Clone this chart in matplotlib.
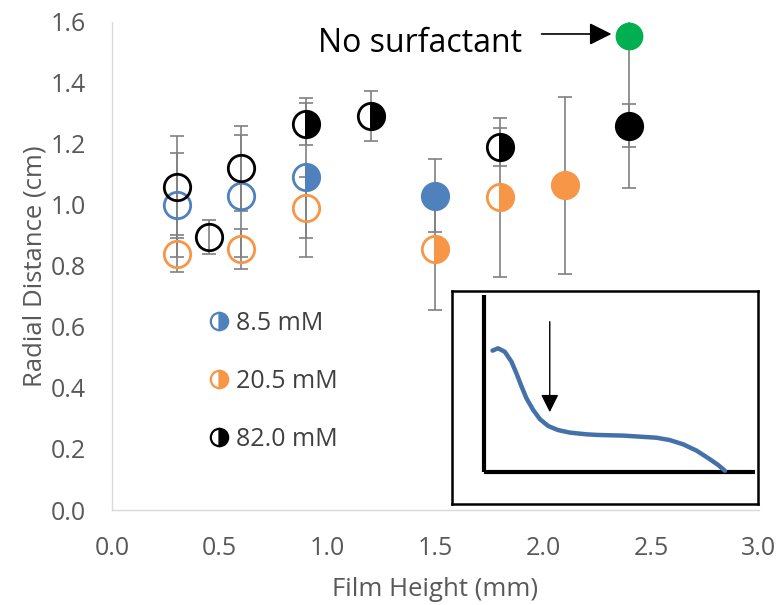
import matplotlib.pyplot as plt
import numpy as np

plt.rcParams['font.family'] = ['Open Sans', 'DejaVu Sans']

# Series: film height (mm), radial distance (cm), error (cm), marker fill
x_85 = [0.3, 0.6, 0.9, 1.5]
y_85 = [1.00, 1.03, 1.09, 1.03]
e_85 = [0.17, 0.20, 0.26, 0.12]
f_85 = ["none", "none", "right", "full"]

x_205 = [0.3, 0.6, 0.9, 1.5, 1.8, 2.1]
y_205 = [0.84, 0.855, 0.99, 0.855, 1.025, 1.065]
e_205 = [0.06, 0.065, 0.10, 0.20, 0.26, 0.29]
f_205 = ["none", "none", "none", "right", "right", "full"]

x_820 = [0.3, 0.45, 0.6, 0.9, 1.2, 1.8, 2.4]
y_820 = [1.06, 0.895, 1.12, 1.265, 1.29, 1.19, 1.26]
e_820 = [0.167, 0.055, 0.14, 0.07, 0.082, 0.062, 0.07]
f_820 = ["none", "none", "none", "right", "right", "right", "full"]

x_none = [2.4]
y_none = [1.555]
e_none = [0.5]

labels = ["8.5 mM", "20.5 mM", "82.0 mM"]
colors = ["#4F81BD", "#F79646", "#000000"]

x_ticks = [0.0, 0.5, 1.0, 1.5, 2.0, 2.5, 3.0]
y_ticks = [0.0, 0.2, 0.4, 0.6, 0.8, 1.0, 1.2, 1.4, 1.6]

# Inset schematic (film profile), in inset axes fractions
inset_x = [0.133, 0.151, 0.173, 0.195, 0.211, 0.228, 0.244, 0.266, 0.288,
           0.315, 0.347, 0.386, 0.440, 0.478, 0.560, 0.669, 0.712, 0.756,
           0.800, 0.843, 0.870, 0.892]
inset_y = [0.720, 0.731, 0.715, 0.668, 0.614, 0.551, 0.496, 0.441, 0.398,
           0.366, 0.347, 0.335, 0.327, 0.324, 0.321, 0.311, 0.300, 0.280,
           0.250, 0.210, 0.183, 0.156]

fig = plt.figure(figsize=(7.83, 6.05), dpi=100)
ax = fig.add_axes([0.143, 0.157, 0.826, 0.807])

err_color = "#808080"
series = [(x_85, y_85, e_85, f_85, colors[0]),
          (x_205, y_205, e_205, f_205, colors[1]),
          (x_820, y_820, e_820, f_820, colors[2])]

for xs, ys, es, fs, c in series:
    ax.errorbar(xs, ys, yerr=es, fmt="none", ecolor=err_color, elinewidth=1.2,
                capsize=5, capthick=1.2, zorder=1)
ax.errorbar(x_none, y_none, yerr=e_none, fmt="none", ecolor=err_color,
            elinewidth=1.2, capsize=5, capthick=1.2, zorder=1)

for xs, ys, es, fs, c in series:
    for xi, yi, fi in zip(xs, ys, fs):
        ax.plot(xi, yi, "o", markersize=19, markeredgewidth=2, color=c,
                markeredgecolor=c, fillstyle=fi, markerfacecoloralt="none", zorder=3)
ax.plot(x_none, y_none, "o", markersize=19, color="#00B050", zorder=3)

# Legend (half-filled markers)
handles = [plt.Line2D([], [], marker="o", linestyle="", markersize=12.5, color=c,
                      markeredgecolor=c, markeredgewidth=1.6, fillstyle="right",
                      markerfacecoloralt="white") for c in colors]
leg = ax.legend(handles, labels, loc="upper left", bbox_to_anchor=(0.150, 0.408),
                frameon=False, fontsize=18, handlelength=0.8, handletextpad=0.3,
                labelspacing=1.32, borderpad=0, borderaxespad=0)
for t in leg.get_texts():
    t.set_color("#404040")

ax.text(0.955, 1.500, "No surfactant", fontsize=23, color="black", va="baseline")
ax.annotate("", xy=(2.33, 1.56), xytext=(1.98, 1.56),
            arrowprops=dict(arrowstyle="-|>", color="black", lw=1.2,
                            mutation_scale=34))

ax.set_xlim(0, 3.0)
ax.set_ylim(0, 1.6)
ax.set_xticks(x_ticks)
ax.set_xticklabels([f"{t:.1f}" for t in x_ticks])
ax.set_yticks(y_ticks)
ax.set_yticklabels([f"{t:.1f}" for t in y_ticks])
ax.tick_params(length=0, labelsize=18, labelcolor="#595959", pad=19)
for s in ["top", "right"]:
    ax.spines[s].set_visible(False)
for s in ["left", "bottom"]:
    ax.spines[s].set_color("#D9D9D9")
    ax.spines[s].set_linewidth(1)

ax.set_xlabel("Film Height (mm)", fontsize=18.5, color="#595959")
ax.set_ylabel("Radial Distance (cm)", fontsize=18.5, color="#595959")
ax.xaxis.set_label_coords(0.5, -0.138)
ax.yaxis.set_label_coords(-0.10, 0.5)

# Inset schematic
ins = fig.add_axes([0.577, 0.167, 0.391, 0.352])
ins.set_xlim(0, 1)
ins.set_ylim(0, 1)
ins.set_xticks([])
ins.set_yticks([])
for s in ins.spines.values():
    s.set_color("black")
    s.set_linewidth(1.8)
ins.plot([0.106, 0.106], [0.152, 0.981], color="black", lw=3, solid_capstyle="butt")
ins.plot([0.106, 0.99], [0.152, 0.152], color="black", lw=3, solid_capstyle="butt")
ins.plot(inset_x, inset_y, color="#4472A8", lw=3.2, solid_capstyle="round",
         solid_joinstyle="round")
ins.annotate("", xy=(0.320, 0.418), xytext=(0.320, 0.869),
             arrowprops=dict(arrowstyle="-|>", color="black", lw=1,
                             mutation_scale=27))

fig.savefig("out.png", dpi=100)
